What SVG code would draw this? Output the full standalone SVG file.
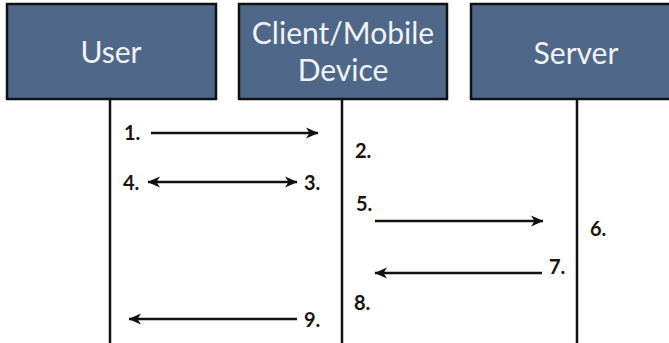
<svg xmlns="http://www.w3.org/2000/svg" width="669" height="343" viewBox="0 0 669 343">
  <style>
    .box { fill: #4f6889; stroke: #111; stroke-width: 2.5; }
    .title { font-family: "Lato", "Open Sans", sans-serif; font-size: 30px; fill: #f2f2f2; text-anchor: middle; }
    .life { stroke: #111; stroke-width: 2.5; fill: none; }
    .msg { stroke: #111; stroke-width: 2.6; fill: none; }
    .num { font-family: "Lato", "Open Sans", sans-serif; font-weight: bold; font-size: 20px; fill: #1a1410; }
  </style>
  <defs>
    <marker id="head" markerUnits="userSpaceOnUse" markerWidth="14" markerHeight="12" refX="12" refY="6" orient="auto-start-reverse" viewBox="0 0 14 12">
      <path d="M0,0.5 L12.5,6 L0,11.5 L3.5,6 Z" fill="#111"/>
    </marker>
  </defs>

  <rect width="669" height="343" fill="#ffffff"/>

  <g id="user">
    <rect class="box" x="7" y="4" width="209" height="95"/>
    <text class="title" x="111" y="63">User</text>
  </g>

  <g id="client">
    <rect class="box" x="239" y="4" width="208" height="95"/>
    <text class="title" x="343" y="44">Client/Mobile</text>
    <text class="title" x="343" y="81">Device</text>
  </g>

  <g id="server">
    <rect class="box" x="471" y="4" width="210" height="95"/>
    <text class="title" x="576" y="64">Server</text>
  </g>

  <g id="connectors">
    <!-- lifelines -->
    <line class="life" x1="110" y1="99" x2="110" y2="343"/>
    <line class="life" x1="342" y1="99" x2="342" y2="343"/>
    <line class="life" x1="577" y1="99" x2="577" y2="343"/>

    <!-- messages -->
    <line class="msg" x1="151" y1="133" x2="318" y2="133" marker-end="url(#head)"/>
    <line class="msg" x1="148" y1="182" x2="297" y2="182" marker-start="url(#head)" marker-end="url(#head)"/>
    <line class="msg" x1="375" y1="221" x2="543" y2="221" marker-end="url(#head)"/>
    <line class="msg" x1="542" y1="273" x2="375" y2="273" marker-end="url(#head)"/>
    <line class="msg" x1="297" y1="319" x2="129" y2="319" marker-end="url(#head)"/>
  </g>

  <g id="labels">
    <text class="num" x="124" y="140">1.</text>
    <text class="num" x="355" y="158">2.</text>
    <text class="num" x="304" y="190">3.</text>
    <text class="num" x="123" y="190">4.</text>
    <text class="num" x="356" y="211">5.</text>
    <text class="num" x="590" y="236">6.</text>
    <text class="num" x="549" y="274">7.</text>
    <text class="num" x="354" y="310">8.</text>
    <text class="num" x="304" y="327">9.</text>
  </g>
</svg>
